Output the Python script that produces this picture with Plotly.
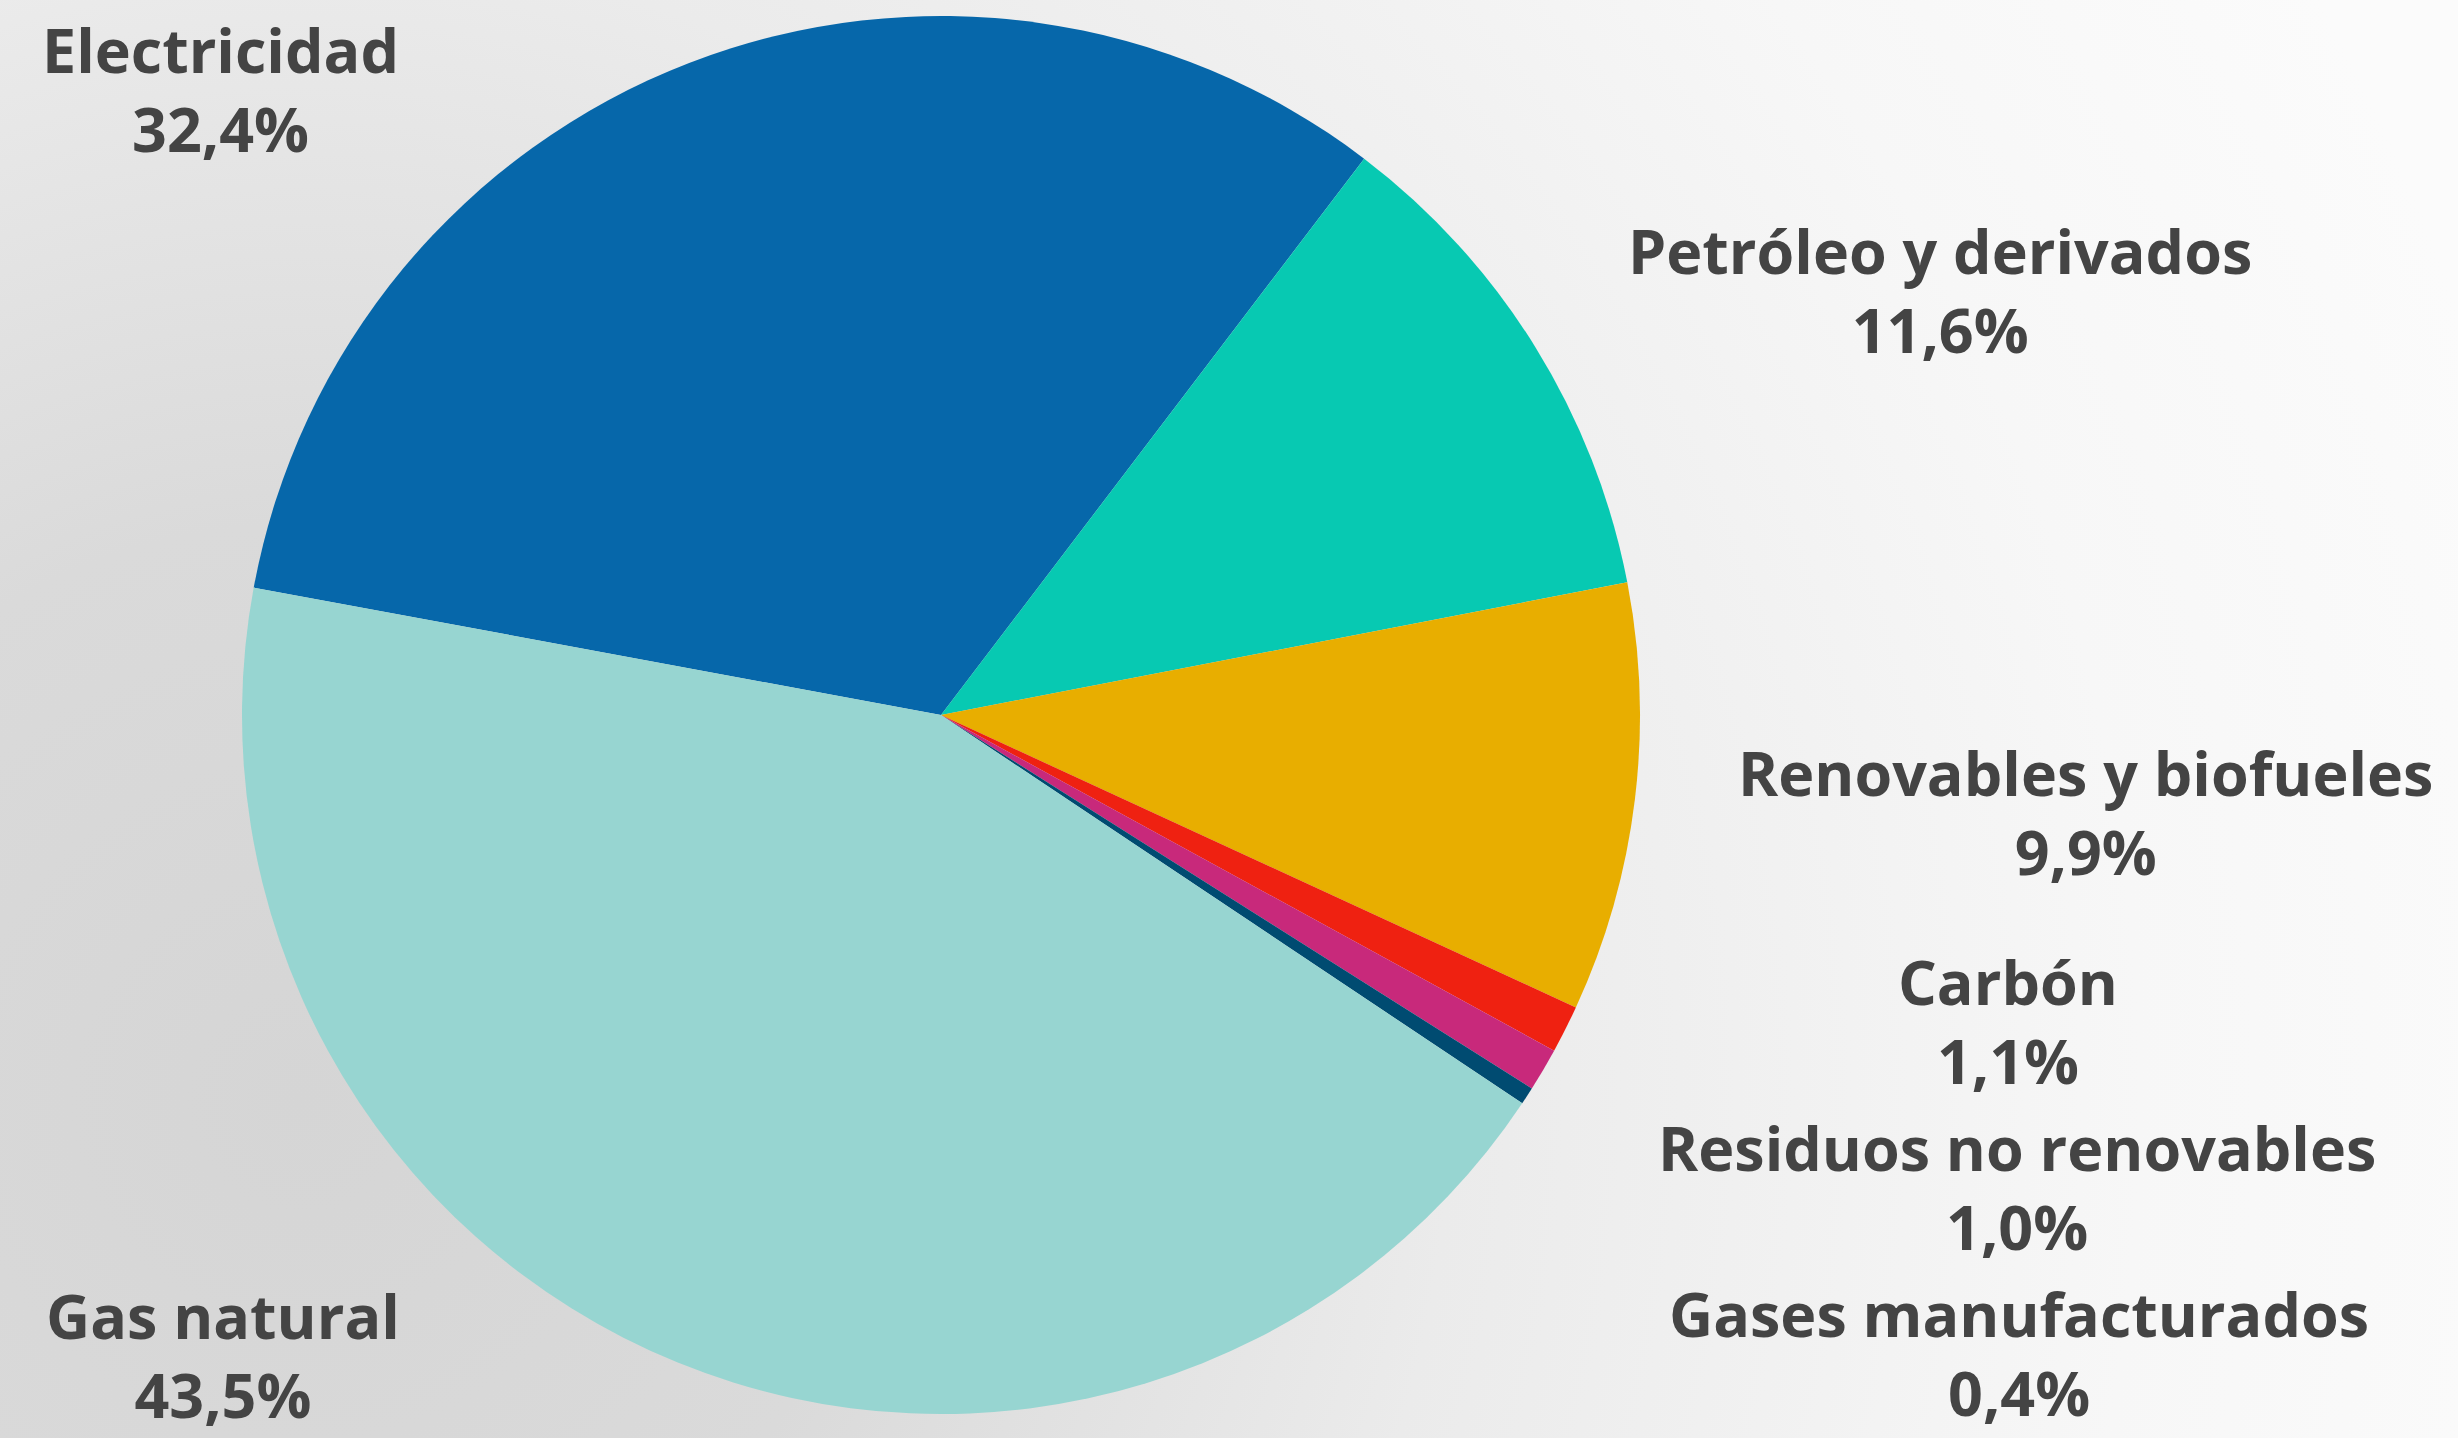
import base64
import plotly.graph_objects as go

# ---- data ----
labels = ["Electricidad", "Petróleo y derivados", "Renovables y biofueles", "Carbón",
          "Residuos no renovables", "Gases manufacturados", "Gas natural"]
values = [32.4, 11.6, 9.9, 1.1, 1.0, 0.4, 43.5]

# ---- styles ----
colors = ["#0667aa", "#07c9b2", "#e8ae00", "#ef2111", "#c8297b", "#004b71", "#97d5d1"]
# label anchor positions in pixels (center x, block-center y)
label_px = [(220, 89), (1940, 290), (2085, 812), (2008, 1021), (2017, 1187), (2019, 1353), (223, 1355)]

W, H = 2458, 1438
FONT = 61

svg = f'''<svg xmlns="http://www.w3.org/2000/svg" width="{W}" height="{H}" viewBox="0 0 {W} {H}" preserveAspectRatio="none">
<defs><radialGradient id="g" gradientUnits="userSpaceOnUse" cx="300" cy="1100" r="2300">
<stop offset="0" stop-color="#d5d5d5"/><stop offset="0.25" stop-color="#dadada"/>
<stop offset="0.5" stop-color="#ebebeb"/><stop offset="0.8" stop-color="#f7f7f7"/>
<stop offset="1" stop-color="#fbfbfb"/></radialGradient></defs>
<rect width="{W}" height="{H}" fill="url(#g)"/></svg>'''
bg_src = "data:image/svg+xml;base64," + base64.b64encode(svg.encode()).decode()

# pie geometry
cx, cy, r = 941, 715, 699
domain = dict(x=[(cx - r) / W, (cx + r) / W], y=[1 - (cy + r) / H, 1 - (cy - r) / H])

fig = go.Figure(go.Pie(
    labels=labels, values=values, sort=False, direction="clockwise", rotation=-79.5,
    marker=dict(colors=colors, line=dict(width=0)),
    textinfo="none", hoverinfo="label+percent", showlegend=False, domain=domain,
))

for lab, val, (px, py) in zip(labels, values, label_px):
    txt = f"{lab}<br>{val:.1f}%".replace(".", ",")
    fig.add_annotation(text=txt, x=px / W, y=1 - py / H, xref="paper", yref="paper",
                       xanchor="center", yanchor="middle", showarrow=False, align="center",
                       font=dict(family="Open Sans", size=FONT, color="#444444", weight=700))

fig.update_layout(
    width=W, height=H, margin=dict(l=0, r=0, t=0, b=0),
    paper_bgcolor="#f2f2f2", plot_bgcolor="rgba(0,0,0,0)",
    images=[dict(source=bg_src, xref="paper", yref="paper", x=0, y=1, sizex=1, sizey=1,
                 xanchor="left", yanchor="top", sizing="stretch", layer="below")],
)

fig.write_html("out.html", config={"displayModeBar": False},
               post_script="document.body.style.margin='0';document.body.style.overflow='hidden';")
